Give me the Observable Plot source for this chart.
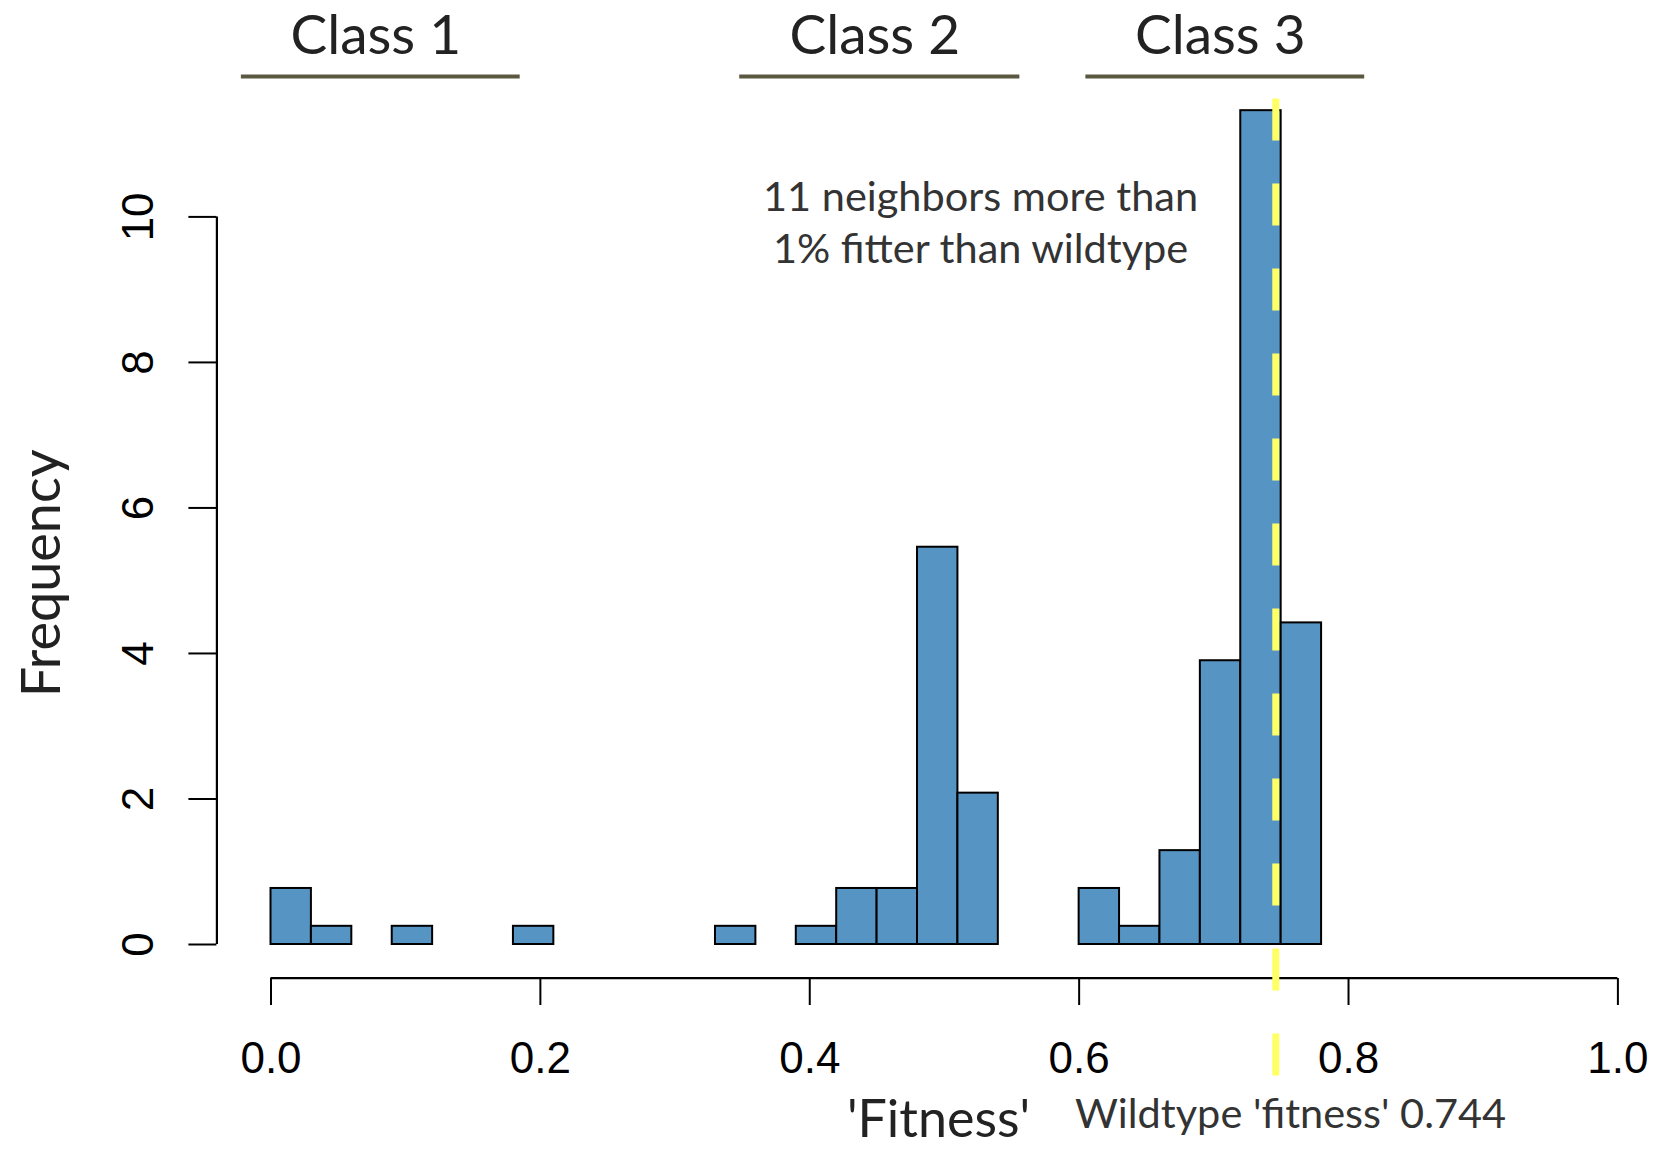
<!DOCTYPE html>
<html>
<head>
<meta charset="utf-8">
<script src="https://cdn.jsdelivr.net/npm/d3@7"></script>
<script src="https://cdn.jsdelivr.net/npm/@observablehq/plot@0.6"></script>
<style>
  html, body { margin: 0; padding: 0; background: #fff; }
  #chart svg { display: block; }
</style>
</head>
<body>
<div id="chart"></div>
<script>
// Histogram bins (fitness) and their frequencies
const binEdges = [0.00, 0.03, 0.06, 0.09, 0.12, 0.15, 0.18, 0.21, 0.24, 0.27, 0.30, 0.33, 0.36,
                  0.39, 0.42, 0.45, 0.48, 0.51, 0.54, 0.57, 0.60, 0.63, 0.66, 0.69, 0.72, 0.75, 0.78];
const frequencies = [0.77, 0.25, 0, 0.25, 0, 0, 0.25, 0, 0, 0, 0, 0.25, 0,
                     0.25, 0.77, 0.77, 5.46, 2.08, 0, 0, 0.77, 0.25, 1.29, 3.90, 11.46, 4.42];

const xTicks = [0, 0.2, 0.4, 0.6, 0.8, 1.0];
const yTicks = [0, 2, 4, 6, 8, 10];

// Class brackets across the top
const classNames = ["Class 1", "Class 2", "Class 3"];
const classStart = [-0.022, 0.348, 0.605];
const classEnd   = [0.185, 0.556, 0.812];

// Wildtype marker
const wildtypeLine = 0.746;
const wildtypeLabel = "Wildtype 'fitness' 0.744";
const noteLines = ["11 neighbors more than", "1% fitter than wildtype"];

const bins = frequencies.map((f, i) => ({x1: binEdges[i], x2: binEdges[i + 1], freq: f}));
const classes = classNames.map((n, i) => ({name: n, x1: classStart[i], x2: classEnd[i], mid: (classStart[i] + classEnd[i]) / 2}));

const W = 1663, H = 1152;
const textFont = "Lato, 'Open Sans', sans-serif";

const chart = Plot.plot({
  width: W,
  height: H,
  marginLeft: 216.4,
  marginRight: 45.6,
  marginTop: 0,
  marginBottom: 174,
  style: {fontFamily: "'Liberation Sans', Arial, Helvetica, sans-serif", fontSize: "44px", background: "#fff", color: "#000"},
  x: {domain: [0, 1], range: [270.5, 1617.4]},
  y: {domain: [0, 10], range: [944, 216.4]},
  marks: [
    // histogram bars
    Plot.rectY(bins, {x1: "x1", x2: "x2", y: "freq", fill: "#5695c3", stroke: "#000", strokeWidth: 2}),
    // x axis
    Plot.ruleY([0], {x1: 0, x2: 1, dy: 33.7, stroke: "#000", strokeWidth: 2.2}),
    Plot.axisX({ticks: xTicks, tickFormat: d3.format(".1f"), tickSize: 27, tickPadding: 36, strokeWidth: 2, label: null, fontSize: 44}),
    // y axis
    Plot.ruleX([0], {y1: 0, y2: 10, dx: -54.1, stroke: "#000", strokeWidth: 2.2}),
    Plot.axisY({ticks: yTicks, tickFormat: d3.format("d"), tickSize: 28, tickPadding: 36, tickRotate: -90, strokeWidth: 2, label: null, fontSize: 44}),
    // axis titles
    Plot.text(["Frequency"], {x: -0.1696, y: 5.1, rotate: -90, fontFamily: textFont, fontSize: 54, fill: "#222", textAnchor: "middle", lineAnchor: "middle"}),
    Plot.text(["'Fitness'"], {x: 0.4956, y: -2.42, fontFamily: textFont, fontSize: 52, fill: "#222", textAnchor: "middle", lineAnchor: "middle"}),
    // wildtype label
    Plot.text([wildtypeLabel], {x: 0.757, y: -2.34, fontFamily: textFont, fontSize: 41.5, fill: "#333", textAnchor: "middle", lineAnchor: "middle"}),
    // annotation
    Plot.text(noteLines, {x: 0.5268, y: [10.27, 9.55], fontFamily: textFont, fontSize: 41.5, fill: "#333", textAnchor: "middle", lineAnchor: "middle"}),
    // class brackets
    Plot.ruleY(classes, {x1: "x1", x2: "x2", y: 11.93, stroke: "#5a5840", strokeWidth: 4}),
    Plot.text(classes, {x: "mid", y: 12.48, dx: -5, text: "name", fontFamily: textFont, fontSize: 55, fill: "#222", textAnchor: "middle", lineAnchor: "middle"}),
    // wildtype dashed line
    Plot.ruleX([wildtypeLine], {y1: 11.62, y2: -1.81, stroke: "#ffff66", strokeWidth: 7, strokeDasharray: "42,43"})
  ]
});

document.getElementById("chart").appendChild(chart);
</script>
</body>
</html>
